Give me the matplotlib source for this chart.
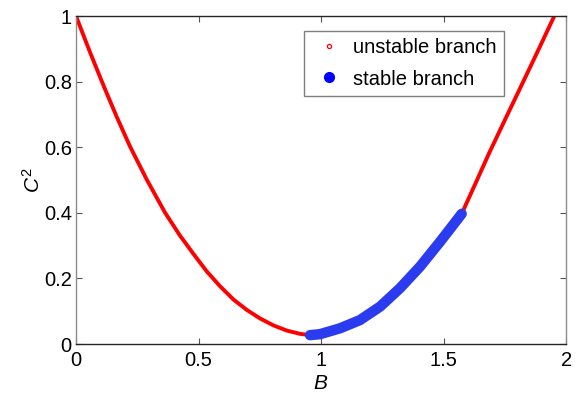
import matplotlib.pyplot as plt
from matplotlib.lines import Line2D

plt.rcParams['font.family'] = ['Liberation Sans', 'DejaVu Sans']
plt.rcParams['mathtext.fontset'] = 'custom'
plt.rcParams['mathtext.it'] = 'Liberation Sans:italic'
plt.rcParams['mathtext.rm'] = 'Liberation Sans'

# unstable branch: left arm down to the minimum, and the right arm above B ~ 1.57
B_unstable = [0.0, 0.057, 0.114, 0.166, 0.220, 0.289, 0.363, 0.424, 0.479,
              0.533, 0.588, 0.642, 0.697, 0.751, 0.805, 0.860, 0.914, 0.955]
C2_unstable = [1.0, 0.890, 0.785, 0.693, 0.603, 0.501, 0.401, 0.331, 0.275,
               0.222, 0.176, 0.136, 0.104, 0.078, 0.057, 0.041, 0.031, 0.027]
B_unstable_r = [1.574, 1.630, 1.686, 1.756, 1.826, 1.889, 1.952]
C2_unstable_r = [0.397, 0.489, 0.582, 0.692, 0.801, 0.900, 1.0]

# stable branch
B_stable = [0.955, 0.996, 1.078, 1.159, 1.241, 1.322, 1.404, 1.486, 1.540, 1.574]
C2_stable = [0.027, 0.030, 0.048, 0.073, 0.114, 0.170, 0.236, 0.312, 0.364, 0.397]

fig = plt.figure(figsize=(5.8, 4), dpi=100)
ax = fig.add_axes([0.131, 0.14, 0.845, 0.82])

red_kw = dict(color='red', lw=2.8, solid_capstyle='round', solid_joinstyle='round')
ax.plot(B_unstable, C2_unstable, **red_kw)
ax.plot(B_unstable_r, C2_unstable_r, **red_kw)
ax.plot(B_stable, C2_stable, color='#2b3cf0', lw=7.5, solid_capstyle='round',
        solid_joinstyle='round')

ax.set_xlim(0, 2)
ax.set_ylim(0, 1)
ax.set_xticks([0, 0.5, 1, 1.5, 2])
ax.set_xticklabels(['0', '0.5', '1', '1.5', '2'])
ax.set_yticks([0, 0.2, 0.4, 0.6, 0.8, 1])
ax.set_yticklabels(['0', '0.2', '0.4', '0.6', '0.8', '1'])
ax.tick_params(direction='in', length=4, width=0.8, colors='#555555',
               labelcolor='black', labelsize=14.5, top=True, right=True)
ax.tick_params(axis='x', pad=5)
ax.tick_params(axis='y', pad=3)

for side in ['left', 'right']:
    ax.spines[side].set_color('#8c8c8c')
for side in ['top', 'bottom']:
    ax.spines[side].set_color('#262626')
for s in ax.spines.values():
    s.set_linewidth(1.0)

ax.set_xlabel('$B$', fontsize=15, labelpad=3)
ax.set_ylabel('$C^2$', fontsize=15, labelpad=0)

handles = [
    Line2D([], [], ls='none', marker='o', ms=3, mfc='none', mec='red', mew=0.9),
    Line2D([], [], ls='none', marker='o', ms=7, color='blue'),
]
leg = ax.legend(handles, ['unstable branch', 'stable branch'], loc='upper right',
                bbox_to_anchor=(0.873, 0.953), borderaxespad=0, fontsize=14.5,
                fancybox=False, framealpha=1, edgecolor='#7f7f7f',
                handlelength=1.75, handletextpad=0.35, borderpad=0.35,
                labelspacing=0.6)
leg.get_frame().set_linewidth(1.0)

fig.savefig('out.png', dpi=100)
